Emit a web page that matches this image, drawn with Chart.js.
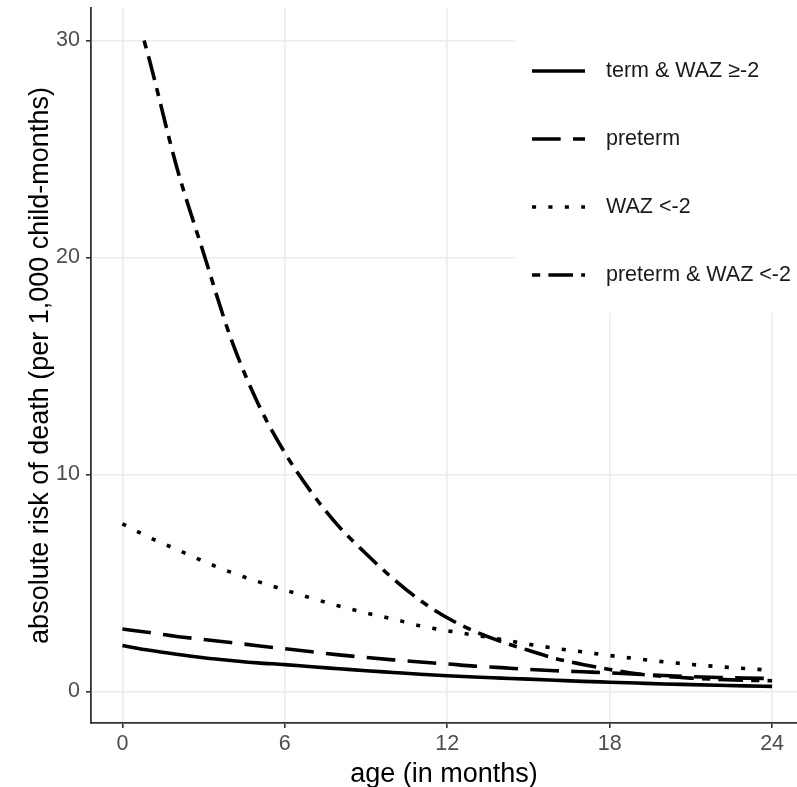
<!DOCTYPE html>
<html>
<head>
<meta charset="utf-8">
<script src="https://cdn.jsdelivr.net/npm/chart.js@4/dist/chart.umd.min.js"></script>
<style>
  body { margin: 0; background: #fff; }
</style>
</head>
<body>
<canvas id="chart" width="797" height="787"></canvas>
<script>
// age in months
const months = [0, 1, 2, 3, 4, 5, 6, 7, 8, 9, 10, 11, 12, 13, 14, 15, 16, 17, 18, 19, 20, 21, 22, 23, 24];
const dualMonths = [0.8, 1, 2, 3, 4, 5, 6, 7, 8, 9, 10, 11, 12, 13, 14, 15, 16, 17, 18, 19, 20, 21, 22, 23, 24];

// absolute risk of death per 1,000 child-months
const termNormal = [2.12, 1.9, 1.72, 1.56, 1.43, 1.32, 1.24, 1.14, 1.05, 0.96, 0.88, 0.8, 0.73, 0.67, 0.62, 0.57, 0.52, 0.47, 0.43, 0.39, 0.35, 0.32, 0.29, 0.26, 0.24];
const preterm = [2.88, 2.72, 2.54, 2.4, 2.26, 2.11, 1.97, 1.83, 1.69, 1.57, 1.46, 1.36, 1.27, 1.17, 1.1, 1.02, 0.96, 0.91, 0.86, 0.8, 0.74, 0.69, 0.65, 0.62, 0.6];
const lowWaz = [7.73, 7.1, 6.55, 6.0, 5.5, 5.07, 4.68, 4.3, 3.94, 3.62, 3.34, 3.03, 2.8, 2.6, 2.4, 2.18, 1.99, 1.83, 1.66, 1.51, 1.37, 1.25, 1.15, 1.06, 0.98];
const pretermLowWaz = [30.0, 29.1, 24.2, 20.2, 16.3, 13.3, 11.0, 9.15, 7.6, 6.35, 5.2, 4.2, 3.4, 2.78, 2.3, 1.9, 1.52, 1.25, 1.02, 0.82, 0.7, 0.62, 0.56, 0.52, 0.5];

const xTicks = [0, 6, 12, 18, 24];
const yTicks = [0, 10, 20, 30];

const seriesNames = ['term & WAZ \u2265-2', 'preterm', 'WAZ <-2', 'preterm & WAZ <-2'];

const FONT = '"Liberation Sans", Arial, sans-serif';
const u = 4.1; // linetype unit

function pts(xs, ys) {
  return xs.map((x, i) => ({ x: x, y: ys[i] }));
}

function line(label, data, dash) {
  return {
    label: label,
    data: data,
    borderColor: '#000',
    borderWidth: 3.6,
    borderDash: dash,
    borderCapStyle: 'butt',
    pointRadius: 0,
    fill: false,
    cubicInterpolationMode: 'monotone'
  };
}

// legend drawn inside the panel, top right, on a white box
const keyBox = {
  id: 'keyBox',
  afterDraw(chart) {
    const { ctx, chartArea } = chart;
    ctx.save();
    ctx.fillStyle = '#fff';
    ctx.fillRect(515, chartArea.top, chartArea.right - 515 + 2, 313 - chartArea.top);
    chart.data.datasets.forEach((ds, i) => {
      const y = 71 + i * 68;
      ctx.beginPath();
      ctx.setLineDash(ds.borderDash);
      ctx.lineWidth = ds.borderWidth;
      ctx.lineCap = 'butt';
      ctx.strokeStyle = ds.borderColor;
      ctx.moveTo(532, y);
      ctx.lineTo(585, y);
      ctx.stroke();
      ctx.setLineDash([]);
      ctx.fillStyle = '#1a1a1a';
      ctx.font = '21.5px ' + FONT;
      ctx.textBaseline = 'middle';
      ctx.textAlign = 'left';
      ctx.fillText(ds.label, 606, y);
    });
    ctx.restore();
  }
};

new Chart('chart', {
  type: 'line',
  data: {
    datasets: [
      line(seriesNames[0], pts(months, termNormal), []),
      line(seriesNames[1], pts(months, preterm), [7 * u, 3 * u]),
      line(seriesNames[2], pts(months, lowWaz), [1 * u, 3 * u]),
      line(seriesNames[3], pts(dualMonths, pretermLowWaz), [2 * u, 2 * u, 6 * u, 2 * u])
    ]
  },
  options: {
    responsive: false,
    animation: false,
    devicePixelRatio: 1,
    layout: { padding: { top: 8, right: 0, left: 0, bottom: 0 } },
    plugins: {
      legend: { display: false },
      tooltip: { enabled: false }
    },
    scales: {
      x: {
        type: 'linear',
        min: -1.16,
        max: 24.92,
        afterBuildTicks: s => { s.ticks = xTicks.map(v => ({ value: v })); },
        afterFit: s => { s.height = 64; s.paddingLeft = 0; s.paddingRight = 0; },
        grid: { color: '#EBEBEB', lineWidth: 1.6, tickColor: '#333', tickLength: 5 },
        border: { display: true, color: '#333', width: 1.8 },
        ticks: { color: '#4D4D4D', font: { family: FONT, size: 21.5 }, padding: 3, maxRotation: 0 },
        title: {
          display: true,
          text: 'age (in months)',
          color: '#000',
          font: { family: FONT, size: 27, lineHeight: 1.2 },
          padding: { top: 0, bottom: -4 }
        }
      },
      y: {
        min: -1.45,
        max: 31.5,
        afterBuildTicks: s => { s.ticks = yTicks.map(v => ({ value: v })); },
        afterFit: s => { s.width = 91; s.paddingTop = 0; s.paddingBottom = 0; },
        grid: { color: '#EBEBEB', lineWidth: 1.6, tickColor: '#333', tickLength: 5 },
        border: { display: true, color: '#333', width: 1.8 },
        ticks: { color: '#4D4D4D', font: { family: FONT, size: 21.5 }, padding: 6 },
        title: {
          display: true,
          text: 'absolute risk of death (per 1,000 child-months)',
          color: '#000',
          font: { family: FONT, size: 27, lineHeight: 1.2 },
          padding: { top: 24, bottom: 0 }
        }
      }
    }
  },
  plugins: [keyBox]
});
</script>
</body>
</html>
